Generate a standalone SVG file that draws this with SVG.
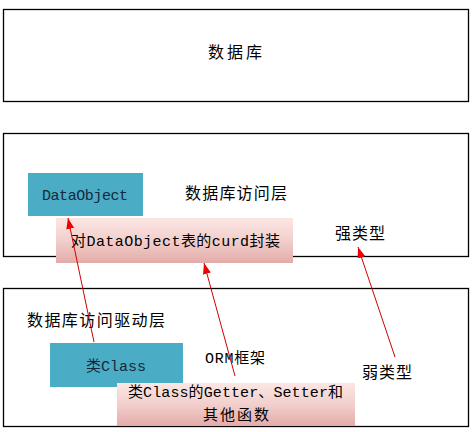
<svg xmlns="http://www.w3.org/2000/svg" width="475" height="432" viewBox="0 0 475 432">
<style>
.frame{fill:#fff;stroke:#000;stroke-width:1.3}
.blue{fill:#4bacc6}
.pink{fill:url(#pg)}
.t{font-family:"Liberation Mono","Noto Sans CJK SC",monospace;font-size:15px;fill:#000}
.cn{font-family:"Noto Sans CJK SC","Liberation Sans",sans-serif;font-size:16px;fill:#000}
.sm{font-size:15px}
.dk{fill:#17283a}
.arr{stroke:#d00000;stroke-width:1;fill:none;marker-end:url(#ah)}
</style>
<defs>
<linearGradient id="pg" x1="0" y1="0" x2="0" y2="1">
<stop offset="0" stop-color="#fbe6e4"/>
<stop offset="0.5" stop-color="#f2cfcc"/>
<stop offset="1" stop-color="#e3aba8"/>
</linearGradient>
<marker id="ah" markerUnits="userSpaceOnUse" markerWidth="12" markerHeight="10" refX="11" refY="4" orient="auto">
<path d="M0,0 L11,4 L0,8 Z" fill="#ee0000"/>
</marker>
</defs>
<g id="db">
<rect class="frame" x="3.5" y="9.5" width="465" height="92"/>
<text class="cn" x="208" y="58" textLength="54">数据库</text>
</g>
<g id="access">
<rect class="frame" x="3.5" y="133.5" width="465" height="123"/>
<text class="cn" x="185" y="199" textLength="102">数据库访问层</text>
<text class="cn" x="335" y="239" textLength="50">强类型</text>
</g>
<g id="dataobject">
<rect class="blue" x="28" y="173" width="115" height="43"/>
<text class="t dk" x="42" y="200" textLength="86">DataObject</text>
</g>
<g id="curd">
<rect class="pink" x="56" y="218" width="237" height="45"/>
<text class="t" x="71" y="246" textLength="209">对DataObject表的curd封装</text>
</g>
<g id="driver">
<rect class="frame" x="3.5" y="288.5" width="465" height="138"/>
<text class="cn" x="27" y="326" textLength="138">数据库访问驱动层</text>
<text class="t" x="205" y="363" textLength="60">ORM框架</text>
<text class="cn" x="362" y="378" textLength="50">弱类型</text>
</g>
<g id="class">
<rect class="blue" x="50" y="343" width="133" height="44"/>
<text class="t dk" x="86" y="371" textLength="60">类Class</text>
</g>
<g id="getset">
<rect class="pink" x="117" y="383" width="238" height="43"/>
<text class="t" x="128" y="397" textLength="215">类Class的Getter、Setter和</text>
<text class="cn sm" x="203" y="420" textLength="66">其他函数</text>
</g>
<g id="connectors">
<line class="arr" x1="94" y1="342" x2="68" y2="218"/>
<line class="arr" x1="235" y1="376" x2="204" y2="263"/>
<line class="arr" x1="395" y1="357" x2="358" y2="247"/>
</g>
</svg>
